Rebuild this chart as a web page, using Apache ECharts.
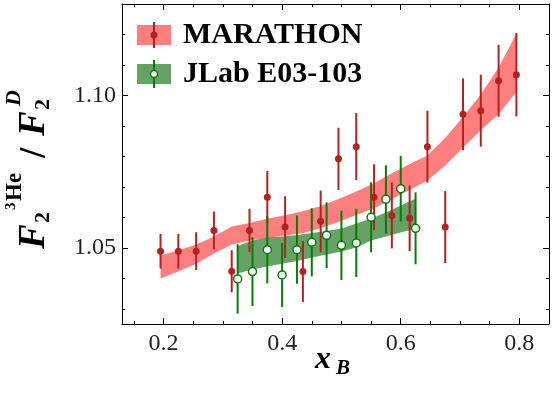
<!DOCTYPE html>
<html>
<head>
<meta charset="utf-8">
<script src="https://cdn.jsdelivr.net/npm/echarts@6/dist/echarts.min.js"></script>
<style>
html, body { margin: 0; padding: 0; background: #fff; }
#chart_main { width: 555px; height: 397px; }
</style>
</head>
<body>
<div id="chart_main"></div>
<script>
// MARATHON points + band
var marathonX = [0.195, 0.225, 0.255, 0.285, 0.315, 0.345, 0.375, 0.405, 0.435, 0.465, 0.495,
    0.525, 0.555, 0.585, 0.615, 0.645, 0.675, 0.705, 0.735, 0.765, 0.795];
var marathonY = [1.0489, 1.0489, 1.0489, 1.0557, 1.0423, 1.0557, 1.0666, 1.0568, 1.0422, 1.0587, 1.0792,
    1.0832, 1.0666, 1.0606, 1.0597, 1.0832, 1.0568, 1.0938, 1.0950, 1.1048, 1.1068];
var marathonErr = [0.0057, 0.0057, 0.0062, 0.0062, 0.0069, 0.0071, 0.0086, 0.0101, 0.0100, 0.0101, 0.0102,
    0.0110, 0.0108, 0.0108, 0.0108, 0.0118, 0.0118, 0.0118, 0.0118, 0.0118, 0.0137];
var marathonBandLow = [1.0399, 1.0422, 1.0448, 1.0481, 1.0511, 1.0524, 1.0532, 1.0540, 1.0548, 1.0565, 1.0585,
    1.0608, 1.0630, 1.0660, 1.0690, 1.0721, 1.0770, 1.0828, 1.0886, 1.0938, 1.1011];
var marathonBandHigh = [1.0475, 1.0491, 1.0511, 1.0537, 1.0570, 1.0581, 1.0595, 1.0607, 1.0620, 1.0637, 1.0660,
    1.0685, 1.0712, 1.0745, 1.0775, 1.0803, 1.0860, 1.0930, 1.1003, 1.1092, 1.1203];

// JLab E03-103 points + band
var jlabX = [0.325, 0.35, 0.375, 0.4, 0.425, 0.45, 0.475, 0.5, 0.525, 0.55, 0.575, 0.6, 0.625];
var jlabY = [1.0398, 1.0422, 1.0494, 1.0411, 1.0494, 1.0518, 1.0541, 1.0508, 1.0516, 1.0600, 1.0659, 1.0694, 1.0564];
var jlabErr = [0.0114, 0.0113, 0.0111, 0.0105, 0.0112, 0.0112, 0.0108, 0.0114, 0.0112, 0.0115, 0.0112, 0.0108, 0.0118];
var jlabBandLow = [1.0416, 1.0429, 1.0439, 1.0448, 1.0457, 1.0468, 1.0478, 1.0488, 1.0501, 1.0524, 1.0537, 1.0550, 1.0563];
var jlabBandHigh = [1.0506, 1.0524, 1.0534, 1.0537, 1.0542, 1.0549, 1.0555, 1.0563, 1.0580, 1.0596, 1.0616, 1.0639, 1.0662];

var xMajorTicks = [0.2, 0.4, 0.6, 0.8];
var xMinorTicks = [0.15, 0.25, 0.3, 0.35, 0.45, 0.5, 0.55, 0.65, 0.7, 0.75];
var yMajorTicks = [1.05, 1.10];
var yMinorTicks = [1.03, 1.04, 1.06, 1.07, 1.08, 1.09, 1.11, 1.12];

var RED = '#b22222', RED_BAND = 'rgba(255,0,0,0.5)';
var GREEN = '#0b7a0b', GREEN_BAND = 'rgba(0,100,0,0.6)';
var SERIF = '"Liberation Serif", "DejaVu Serif", serif';

function xAxisDef(pos, ticks, len, labels, line) {
    return {
        type: 'value', min: 0.13, max: 0.85, position: pos,
        axisLine: { show: line, onZero: false, lineStyle: { color: '#000', width: 1 } },
        splitLine: { show: false },
        axisTick: { show: true, inside: true, length: len, customValues: ticks, lineStyle: { color: '#000' } },
        axisLabel: labels ? {
            customValues: ticks, margin: 8, fontSize: 24, fontFamily: SERIF, color: '#222',
            formatter: function (v) { return v.toFixed(1); }
        } : { show: false }
    };
}
function yAxisDef(pos, ticks, len, labels, line) {
    return {
        type: 'value', min: 1.025, max: 1.13, position: pos,
        axisLine: { show: line, onZero: false, lineStyle: { color: '#000', width: 1 } },
        splitLine: { show: false },
        axisTick: { show: true, inside: true, length: len, customValues: ticks, lineStyle: { color: '#000' } },
        axisLabel: labels ? {
            customValues: ticks, margin: 6, fontSize: 24, fontFamily: SERIF, color: '#222',
            formatter: function (v) { return v.toFixed(2); }
        } : { show: false }
    };
}

function bandSeries(xs, lows, highs, fill) {
    return {
        type: 'custom', silent: true,
        data: xs.map(function (x, i) { return [x, lows[i], highs[i]]; }),
        encode: { x: 0, y: [1, 2] },
        renderItem: function (params, api) {
            if (params.dataIndex !== 0) return;
            var pts = [];
            for (var i = 0; i < xs.length; i++) pts.push(api.coord([xs[i], highs[i]]));
            for (var j = xs.length - 1; j >= 0; j--) pts.push(api.coord([xs[j], lows[j]]));
            return { type: 'polygon', shape: { points: pts }, style: { fill: fill } };
        }
    };
}

function errorSeries(xs, ys, errs, color) {
    return {
        type: 'custom', silent: true,
        data: xs.map(function (x, i) { return [x, ys[i] - errs[i], ys[i] + errs[i]]; }),
        encode: { x: 0, y: [1, 2] },
        renderItem: function (params, api) {
            var lo = api.coord([api.value(0), api.value(1)]);
            var hi = api.coord([api.value(0), api.value(2)]);
            return {
                type: 'line',
                shape: { x1: lo[0], y1: lo[1], x2: hi[0], y2: hi[1] },
                style: { stroke: color, lineWidth: 2 }
            };
        }
    };
}

// y-axis title pieces, local coords (u along text, v = vertical centre)
function yTitlePart(str, u, v, font) {
    return { type: 'text', x: u, y: v, style: { text: str, font: font, fill: '#000', verticalAlign: 'middle' } };
}
var BI = 'italic bold ', B = 'bold ';

var myChart = echarts.init(document.getElementById('chart_main'));
var option = {
    animation: false,
    grid: { left: 122, top: 4, width: 427, height: 320, containLabel: false },
    xAxis: [
        xAxisDef('bottom', xMajorTicks, 6, true, true),
        xAxisDef('bottom', xMinorTicks, 3, false, false),
        xAxisDef('top', xMajorTicks, 6, false, true),
        xAxisDef('top', xMinorTicks, 3, false, false)
    ],
    yAxis: [
        yAxisDef('left', yMajorTicks, 6, true, true),
        yAxisDef('left', yMinorTicks, 3, false, false),
        yAxisDef('right', yMajorTicks, 6, false, true),
        yAxisDef('right', yMinorTicks, 3, false, false)
    ],
    series: [
        bandSeries(marathonX, marathonBandLow, marathonBandHigh, RED_BAND),
        bandSeries(jlabX, jlabBandLow, jlabBandHigh, GREEN_BAND),
        errorSeries(marathonX, marathonY, marathonErr, RED),
        {
            type: 'scatter', silent: true, symbol: 'circle', symbolSize: 7,
            itemStyle: { color: RED, opacity: 1 },
            data: marathonX.map(function (x, i) { return [x, marathonY[i]]; })
        },
        errorSeries(jlabX, jlabY, jlabErr, GREEN),
        {
            type: 'scatter', silent: true, symbol: 'circle', symbolSize: 8,
            itemStyle: { color: '#fff', borderColor: GREEN, borderWidth: 1.5, opacity: 1 },
            data: jlabX.map(function (x, i) { return [x, jlabY[i]]; })
        }
    ],
    graphic: [
        // legend
        { type: 'rect', shape: { x: 137, y: 25, width: 34, height: 20 }, style: { fill: RED_BAND } },
        { type: 'line', shape: { x1: 154, y1: 22, x2: 154, y2: 48 }, style: { stroke: RED, lineWidth: 2 } },
        { type: 'circle', shape: { cx: 154, cy: 35, r: 3.5 }, style: { fill: RED } },
        { type: 'text', x: 183, y: 35, style: { text: 'MARATHON', font: 'bold 30px ' + SERIF, fill: '#000', verticalAlign: 'middle' } },
        { type: 'rect', shape: { x: 137, y: 64, width: 34, height: 20 }, style: { fill: GREEN_BAND } },
        { type: 'line', shape: { x1: 154, y1: 60, x2: 154, y2: 88 }, style: { stroke: GREEN, lineWidth: 2 } },
        { type: 'circle', shape: { cx: 154, cy: 74, r: 3.5 }, style: { fill: '#fff', stroke: GREEN, lineWidth: 1.5 } },
        { type: 'text', x: 183, y: 74, style: { text: 'JLab E03-103', font: 'bold 30px ' + SERIF, fill: '#000', verticalAlign: 'middle' } },
        // x-axis title
        { type: 'text', x: 315, y: 360, style: { text: 'x', font: BI + '32px ' + SERIF, fill: '#000', verticalAlign: 'middle' } },
        { type: 'text', x: 336, y: 369, style: { text: 'B', font: BI + '21px ' + SERIF, fill: '#000', verticalAlign: 'middle' } },
        // y-axis title
        {
            type: 'group', x: 47, y: 247, rotation: Math.PI / 2,
            children: [
                yTitlePart('F', -2, -13, BI + '37px ' + SERIF),
                yTitlePart('2', 24, -4, B + '22px ' + SERIF),
                yTitlePart('3', 37, -36, B + '15px ' + SERIF),
                yTitlePart('He', 46, -32, B + '23px ' + SERIF),
                yTitlePart('/', 89, -12, B + '37px ' + SERIF),
                yTitlePart('F', 111, -13, BI + '37px ' + SERIF),
                yTitlePart('2', 137, -4, B + '22px ' + SERIF),
                yTitlePart('D', 141, -33, BI + '22px ' + SERIF)
            ]
        }
    ]
};
myChart.setOption(option);
</script>
</body>
</html>
